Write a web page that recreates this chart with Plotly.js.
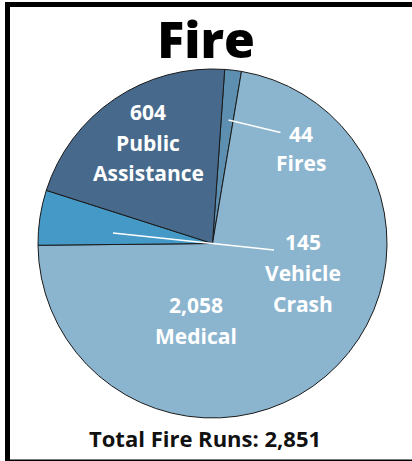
<!DOCTYPE html>
<html>
<head>
<meta charset="utf-8">
<script src="https://cdn.plot.ly/plotly-3.0.1.min.js"></script>
<style>
  html, body { margin: 0; padding: 0; background: #fff; }
  #chart { width: 412px; height: 461px; }
</style>
</head>
<body>
<div id="chart"></div>
<script>
// ---- data ----
const categories = ["Fires", "Medical", "Vehicle Crash", "Public Assistance"];
const runCounts = [44, 2058, 145, 604];
const sliceColors = ["#5d8fb0", "#8bb5cf", "#4499c6", "#476a8c"];
const chartTitle = "Fire";
const totalLabel = "Total Fire Runs: ";

// ---- layout helpers (pixel -> paper) ----
const W = 412, H = 461;
const px = v => v / W;
const py = v => 1 - v / H;
const FONT = "Open Sans, Noto Sans, sans-serif";

// label block placement (center x, middle of first line y, line gap) in pixels
const labelPlace = {
  "Fires": [301, 134, 29.5],
  "Medical": [196, 305, 31],
  "Vehicle Crash": [303, 241.5, 31],
  "Public Assistance": [148, 112, 30.5]
};

const annotations = [];
categories.forEach((cat, i) => {
  const lines = [runCounts[i].toLocaleString("en-US")].concat(cat.split(" "));
  const [cx, cy, gap] = labelPlace[cat];
  lines.forEach((t, j) => {
    annotations.push({
      text: t, xref: "paper", yref: "paper",
      x: px(cx), y: py(cy + j * gap), xanchor: "center", yanchor: "middle",
      showarrow: false,
      font: { family: FONT, size: 21, color: "#ffffff", weight: 700 }
    });
  });
});
const total = runCounts.reduce((a, b) => a + b, 0);
annotations.push({
  text: totalLabel + total.toLocaleString("en-US"),
  xref: "paper", yref: "paper", x: px(205), y: py(438),
  xanchor: "center", yanchor: "middle", showarrow: false,
  font: { family: FONT, size: 22, color: "#111111", weight: 700 }
});

const shapes = [
  // frame
  { type: "rect", xref: "paper", yref: "paper", x0: px(5), x1: px(412), y0: py(7), y1: py(2), fillcolor: "#000", line: { width: 0 } },
  { type: "rect", xref: "paper", yref: "paper", x0: px(5), x1: px(10), y0: py(461), y1: py(2), fillcolor: "#000", line: { width: 0 } },
  { type: "rect", xref: "paper", yref: "paper", x0: px(10), x1: px(412), y0: py(461), y1: py(459.5), fillcolor: "#000", line: { width: 0 } },
  // leader lines
  { type: "line", xref: "paper", yref: "paper", x0: px(228.5), y0: py(120), x1: px(280.5), y1: py(132.5), line: { color: "#ffffff", width: 1.5 } },
  { type: "line", xref: "paper", yref: "paper", x0: px(113), y0: py(233), x1: px(274), y1: py(250), line: { color: "#ffffff", width: 1.5 } }
];

const trace = {
  type: "pie",
  labels: categories,
  values: runCounts,
  sort: false,
  direction: "clockwise",
  rotation: 4,
  textinfo: "none",
  hoverinfo: "label+value",
  marker: { colors: sliceColors, line: { color: "#1a1a1a", width: 1 } },
  domain: { x: [px(38), px(387)], y: [py(418), py(69)] },
  showlegend: false
};

const layout = {
  width: W, height: H,
  margin: { l: 0, r: 0, t: 0, b: 0 },
  paper_bgcolor: "#ffffff",
  title: {
    text: chartTitle, x: 0.5, xanchor: "center", xref: "paper",
    y: py(40), yanchor: "middle", yref: "paper",
    font: { family: FONT, size: 50, color: "#000000", weight: 800 }
  },
  annotations: annotations,
  shapes: shapes
};

Plotly.newPlot("chart", [trace], layout, { displayModeBar: false, staticPlot: true });
</script>
</body>
</html>
